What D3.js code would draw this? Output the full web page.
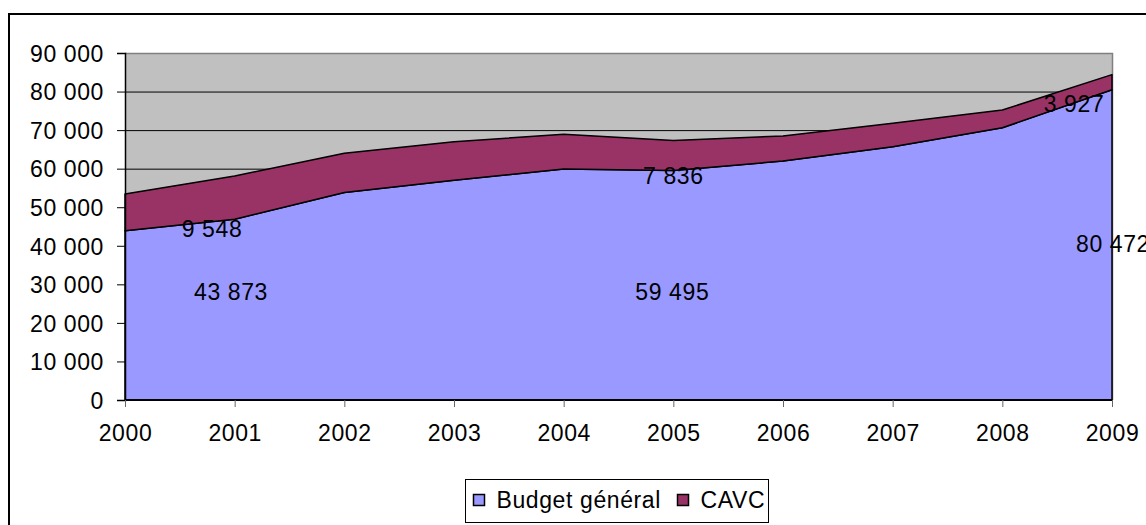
<!DOCTYPE html>
<html>
<head>
<meta charset="utf-8">
<script src="https://cdn.jsdelivr.net/npm/d3@7"></script>
<style>
  body { margin: 0; background: #fff; }
  svg text { font-family: "Liberation Sans", Arial, sans-serif; fill: #000; letter-spacing: 0.6px; }
</style>
</head>
<body>
<div id="chart"></div>
<script>
var years = [2000, 2001, 2002, 2003, 2004, 2005, 2006, 2007, 2008, 2009];
var budgetGeneral = [43873, 46900, 53800, 57000, 59900, 59495, 62000, 65700, 70600, 80472];
var cavc = [9548, 11200, 10200, 10000, 9000, 7836, 6500, 6050, 4600, 3927];
var yTicks = [0, 10000, 20000, 30000, 40000, 50000, 60000, 70000, 80000, 90000];
var seriesNames = ["Budget général", "CAVC"];
var seriesColors = ["#9999ff", "#993366"];
// labels shown by the original chart: [series index, year index]
var shownLabels = [[0, 0], [1, 0], [0, 5], [1, 5], [0, 9], [1, 9]];

(function () {
  'use strict'

  var W = 1146, H = 525;
  var margin = {top: 53, right: 34, bottom: 125, left: 125};
  var width = W - margin.left - margin.right,
      height = H - margin.top - margin.bottom;
  var fontSize = "23px";

  var svg = d3.select("#chart").append("svg")
      .attr("width", W)
      .attr("height", H);

  // outer chart frame (runs off the right/bottom edge like the original)
  svg.append("rect")
      .attr("x", 9).attr("y", 14)
      .attr("width", W + 20).attr("height", H + 20)
      .attr("fill", "#fff")
      .attr("stroke", "#000")
      .attr("stroke-width", 2);

  var g = svg.append("g")
      .attr("transform", "translate(" + margin.left + "," + margin.top + ")");

  var x = d3.scalePoint().domain(years).range([0, width]);
  var y = d3.scaleLinear().domain([0, 90000]).range([height, 0]);

  var fmt = function (v) { return d3.format(",")(v).replace(/,/g, " "); };

  // plot background
  g.append("rect")
      .attr("width", width).attr("height", height)
      .attr("fill", "#c0c0c0");

  // gridlines
  g.append("g").selectAll("line")
      .data(yTicks.filter(function (d) { return d > 0 && d < 90000; }))
      .enter().append("line")
      .attr("x1", 0).attr("x2", width)
      .attr("y1", function (d) { return y(d) + 0.5; })
      .attr("y2", function (d) { return y(d) + 0.5; })
      .attr("stroke", "#000").attr("stroke-width", 1);

  // plot border top/right (grey)
  g.append("path")
      .attr("d", "M0," + (y(90000) + 0.5) + "H" + (width + 0.5) + "V" + height)
      .attr("fill", "none").attr("stroke", "#808080").attr("stroke-width", 1.5);

  var rows = years.map(function (yr, i) {
    return {year: yr, budget: budgetGeneral[i], cavc: cavc[i]};
  });
  var stack = d3.stack().keys(["budget", "cavc"])(rows);

  var area = d3.area()
      .x(function (d) { return x(d.data.year); })
      .y0(function (d) { return y(d[0]); })
      .y1(function (d) { return y(d[1]); });

  g.selectAll(".serie")
      .data(stack)
      .enter().append("path")
      .attr("class", "serie")
      .attr("d", area)
      .attr("fill", function (d, i) { return seriesColors[i]; })
      .attr("stroke", "#000")
      .attr("stroke-width", 1.5)
      .attr("stroke-linejoin", "round");

  // axes
  var yAxis = g.append("g")
      .call(d3.axisLeft(y).tickValues(yTicks).tickSize(8).tickPadding(13).tickFormat(fmt));
  yAxis.select(".domain").attr("stroke", "#000").attr("stroke-width", 1.5);
  yAxis.selectAll(".tick line").attr("stroke", "#000");
  yAxis.selectAll("text").style("font-size", fontSize).attr("dy", "0.36em");

  var xAxis = g.append("g")
      .attr("transform", "translate(0," + height + ")")
      .call(d3.axisBottom(x).tickSize(7).tickPadding(18));
  xAxis.select(".domain").attr("stroke", "#000").attr("stroke-width", 2)
      .attr("d", "M0,0H" + width);
  xAxis.selectAll(".tick line").attr("stroke", "#666");
  xAxis.selectAll("text").style("font-size", fontSize);

  // data labels (placement offsets follow the original's Excel layout)
  var labelLayout = {
    "0_0": {dx: 106, vy: 28100},
    "1_0": {dx: 87, vy: 44480},
    "0_5": {dx: -1, vy: 28000},
    "1_5": {dx: 0, vy: 58090},
    "0_9": {dx: 1, vy: 40460},
    "1_9": {dx: -38, vy: 76890}
  };
  g.append("g").selectAll("text")
      .data(shownLabels)
      .enter().append("text")
      .attr("x", function (d) { return x(years[d[1]]) + labelLayout[d[0] + "_" + d[1]].dx; })
      .attr("y", function (d) { return y(labelLayout[d[0] + "_" + d[1]].vy); })
      .attr("dy", "0.36em")
      .attr("text-anchor", "middle")
      .style("font-size", fontSize)
      .text(function (d) { return fmt(d[0] === 0 ? budgetGeneral[d[1]] : cavc[d[1]]); });

  // legend
  var lg = svg.append("g").attr("transform", "translate(465.5,479.5)");
  lg.append("rect")
      .attr("width", 303).attr("height", 43)
      .attr("fill", "#fff").attr("stroke", "#000").attr("stroke-width", 1);
  var legendX = [8, 212];
  var item = lg.selectAll(".item").data(seriesNames).enter().append("g")
      .attr("transform", function (d, i) { return "translate(" + legendX[i] + ",0)"; });
  item.append("rect")
      .attr("x", 0).attr("y", 15)
      .attr("width", 11).attr("height", 11)
      .attr("fill", function (d, i) { return seriesColors[i]; })
      .attr("stroke", "#000").attr("stroke-width", 1.5);
  item.append("text")
      .attr("x", 23).attr("y", 28)
      .style("font-size", fontSize)
      .text(function (d) { return d; });
})()
</script>
</body>
</html>
